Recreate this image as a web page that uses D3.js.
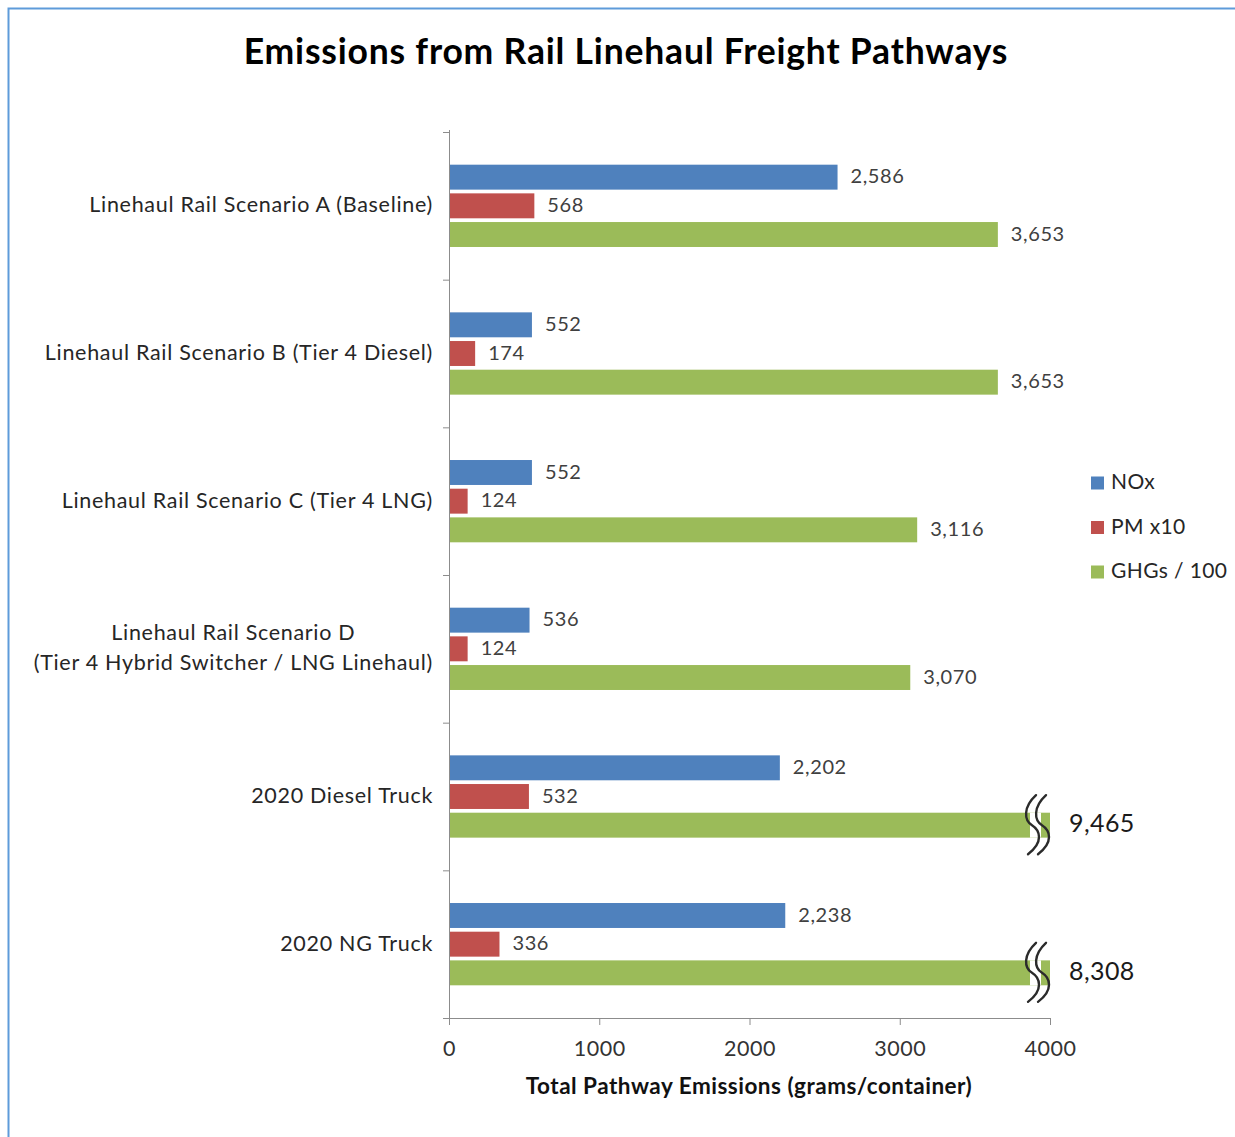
<!DOCTYPE html>
<html>
<head>
<meta charset="utf-8">
<script src="https://cdn.jsdelivr.net/npm/d3@7"></script>
<style>
  html, body { margin: 0; padding: 0; background: #fff; }
  svg { display: block; font-family: Lato, "Open Sans", sans-serif; }
</style>
</head>
<body>
<svg id="chart" width="1235" height="1137"></svg>
<script>
// Pathways shown on the vertical axis (top to bottom)
const categories = [
  "Linehaul Rail Scenario A (Baseline)",
  "Linehaul Rail Scenario B (Tier 4 Diesel)",
  "Linehaul Rail Scenario C (Tier 4 LNG)",
  "Linehaul Rail Scenario D\n(Tier 4 Hybrid Switcher / LNG Linehaul)",
  "2020 Diesel Truck",
  "2020 NG Truck"
];
const seriesNames = ["NOx", "PM x10", "GHGs / 100"];
const noxValues = [2586, 552, 552, 536, 2202, 2238];
const pmValues  = [568, 174, 124, 124, 532, 336];
const ghgValues = [3653, 3653, 3116, 3070, 9465, 8308];
const xTickValues = [0, 1000, 2000, 3000, 4000];
const axisMax = 4000;

const colors = ["#4F81BD", "#C0504D", "#9BBB59"];
const seriesValues = [noxValues, pmValues, ghgValues];

const svg = d3.select("#chart");

// outer frame
svg.append("rect")
  .attr("x", 8.5).attr("y", 8.5)
  .attr("width", 1260).attr("height", 1160)
  .attr("fill", "none")
  .attr("stroke", "#5E9BDA")
  .attr("stroke-width", 2);

// title
svg.append("text")
  .attr("x", 626).attr("y", 55)
  .attr("text-anchor", "middle")
  .attr("dominant-baseline", "middle")
  .attr("font-size", 35.5)
  .attr("letter-spacing", 0.8)
  .attr("font-weight", "bold")
  .attr("fill", "#000")
  .text("Emissions from Rail Linehaul Freight Pathways");

const plotTop = 132, plotBottom = 1018;

const x = d3.scaleLinear().domain([0, axisMax]).range([449, 1050]);
const y0 = d3.scaleBand().domain(categories).range([plotTop, plotBottom]);
const y1 = d3.scaleBand().domain(seriesNames)
  .range([0, y0.bandwidth()])
  .paddingInner(0.13).paddingOuter(1.14);

const rows = categories.map((c, i) => ({
  category: c,
  values: seriesNames.map((s, j) => ({ series: s, value: seriesValues[j][i], color: colors[j] }))
}));

// bars
const groups = svg.append("g").selectAll("g.group")
  .data(rows).join("g")
  .attr("class", "group")
  .attr("transform", d => `translate(0,${y0(d.category)})`);

groups.selectAll("rect")
  .data(d => d.values).join("rect")
  .attr("x", x(0))
  .attr("y", d => y1(d.series))
  .attr("height", y1.bandwidth())
  .attr("width", d => x(Math.min(d.value, axisMax)) - x(0))
  .attr("fill", d => d.color);

// axis break marks on bars that run past the axis maximum
const breakPath = (cx, cy) =>
  `M${cx + 4},${cy - 30} C${cx - 9},${cy - 18} ${cx - 8},${cy - 5} ${cx},${cy} ` +
  `S${cx + 12},${cy + 17} ${cx - 4},${cy + 29}`;

const broken = groups.selectAll("g.brk")
  .data(d => d.values.filter(v => v.value > axisMax)).join("g")
  .attr("class", "brk");

// white gap between the two wavy strokes
broken.append("path")
  .attr("d", d => {
    const cx = x(axisMax) - 19;
    return `M${cx - 1},${y1(d.series)} H${cx + 10} V${y1(d.series) + y1.bandwidth()} H${cx - 1} Z`;
  })
  .attr("fill", "#fff");

[0, 10].forEach(off => {
  broken.append("path")
    .attr("d", d => breakPath(x(axisMax) - 18 + off, y1(d.series) + y1.bandwidth() / 2))
    .attr("fill", "none")
    .attr("stroke", "#2b2b2b")
    .attr("stroke-width", 2.4)
    .attr("stroke-linecap", "round");
});

// value labels
const fmt = d3.format(",");
groups.selectAll("text.val")
  .data(d => d.values).join("text")
  .attr("class", "val")
  .attr("x", d => d.value > axisMax ? x(axisMax) + 19 : x(d.value) + 13)
  .attr("y", d => y1(d.series) + y1.bandwidth() / 2 + 1)
  .attr("dominant-baseline", "middle")
  .attr("font-size", d => d.value > axisMax ? 25 : 20)
  .attr("letter-spacing", d => d.value > axisMax ? 0.4 : 0.6)
  .attr("fill", d => d.value > axisMax ? "#1a1a1a" : "#404040")
  .text(d => fmt(d.value));

// x axis
const xAxis = svg.append("g")
  .attr("transform", `translate(0,${plotBottom})`)
  .call(d3.axisBottom(x).tickValues(xTickValues).tickFormat(d3.format("d"))
    .tickSizeInner(7).tickSizeOuter(0).tickPadding(16));
xAxis.select(".domain").attr("stroke", "#8c8c8c").attr("d", `M443,0.5H${x(axisMax)}`);
xAxis.selectAll(".tick line").attr("stroke", "#8c8c8c");
xAxis.selectAll(".tick text")
  .attr("font-size", 21.5).attr("fill", "#333")
  .attr("letter-spacing", 0.5)
  .attr("font-family", "Lato, sans-serif");

// y axis: ticks at category boundaries
const yb = d3.scaleLinear().domain([0, categories.length]).range([plotTop, plotBottom]);
const yAxis = svg.append("g")
  .attr("transform", `translate(${x(0)},0)`)
  .call(d3.axisLeft(yb).ticks(categories.length).tickFormat("").tickSizeInner(6).tickSizeOuter(0));
yAxis.select(".domain").attr("stroke", "#8c8c8c").attr("d", `M0.5,${plotTop - 2}V${plotBottom}`);
yAxis.selectAll(".tick line").attr("stroke", "#8c8c8c");

// category labels
svg.append("g").selectAll("text")
  .data(categories).join("text")
  .attr("x", 433)
  .attr("y", c => y0(c) + y0.bandwidth() / 2 - 1)
  .attr("text-anchor", "end")
  .attr("font-size", 21.5)
  .attr("letter-spacing", 0.7)
  .attr("fill", "#262626")
  .each(function (c) {
    const lines = c.split("\n");
    const t = d3.select(this);
    lines.forEach((ln, k) => {
      t.append("tspan")
        .attr("x", 433)
        .attr("dy", k === 0 ? `${-(lines.length - 1) * 0.7 + 0.35}em` : "1.4em")
        .attr("text-anchor", lines.length > 1 ? "middle" : "end")
        .text(ln);
    });
    if (lines.length > 1) {
      // centre the two-line label within the width of its longest line
      const w = this.getBBox().width;
      t.selectAll("tspan").attr("x", 433 - w / 2);
    }
  });

// axis title
svg.append("text")
  .attr("x", 749).attr("y", 1088)
  .attr("text-anchor", "middle")
  .attr("dominant-baseline", "middle")
  .attr("font-size", 22.5)
  .attr("letter-spacing", 0.5)
  .attr("font-weight", "bold")
  .attr("fill", "#111")
  .text("Total Pathway Emissions (grams/container)");

// legend
const legend = svg.append("g").selectAll("g")
  .data(seriesNames).join("g")
  .attr("transform", (d, i) => `translate(1091,${483 + i * 44.5})`);
legend.append("rect")
  .attr("x", 0).attr("y", -6.5).attr("width", 13).attr("height", 13)
  .attr("fill", (d, i) => colors[i]);
legend.append("text")
  .attr("x", 20).attr("y", 1)
  .attr("dominant-baseline", "middle")
  .attr("font-size", 21)
  .attr("letter-spacing", 0.4)
  .attr("fill", "#262626")
  .text(d => d);
</script>
</body>
</html>
